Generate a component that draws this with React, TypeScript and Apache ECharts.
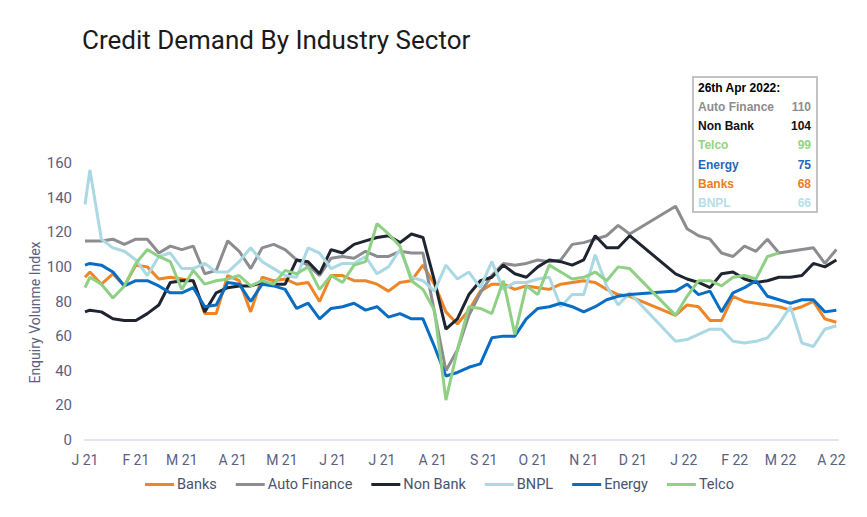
import React, { useEffect, useRef } from "react";
import * as echarts from "echarts";

// Weekly observation dates: a Jan 1 start point, then Mondays through Apr 4, 2022
const firstDate = "2021-01-01";
const firstMonday = "2021-01-04";
const mondayCount = 66;

const monthTicks = [
  "2021-01-01", "2021-02-01", "2021-03-01", "2021-04-01", "2021-05-01", "2021-06-01",
  "2021-07-01", "2021-08-01", "2021-09-01", "2021-10-01", "2021-11-01", "2021-12-01",
  "2022-01-01", "2022-02-01", "2022-03-01", "2022-04-01",
];
const monthLabels = [
  "J 21", "F 21", "M 21", "A 21", "M 21", "J 21", "J 21", "A 21", "S 21", "O 21", "N 21", "D 21",
  "J 22", "F 22", "M 22", "A 22",
];

const yTicks = { min: 0, max: 160, step: 20 };

const banks = [94,
  97, 90, 96, 89, 101, 100, 93, 94, 93, 92,
  73, 73, 95, 92, 74, 94, 92, 93, 90, 91,
  80, 95, 95, 92, 92, 90, 86, 91, 92, 101,
  90, 74, 67, 75, 86, 90, 90, 87, 89, 88,
  87, 90, 91, 92, 91, 87, 84, 83, null, null,
  null, 72, 78, 77, 69, 69, 83, 80, 79, 78,
  77, 75, 77, 80, 70, 68];

const autoFinance = [115,
  115, 115, 116, 113, 116, 116, 108, 112, 110, 112,
  96, 98, 115, 109, 99, 111, 113, 110, 104, 101,
  95, 105, 106, 105, 109, 106, 106, 109, 108, 108,
  74, 40, 52, 72, 85, 95, 102, 101, 102, 104,
  103, 104, 113, 114, 116, 118, 124, 119, null, null,
  null, 135, 122, 118, 116, 108, 106, 112, 109, 116,
  108, 109, 110, 111, 102, 110];

const nonBank = [74,
  75, 74, 70, 69, 69, 73, 78, 91, 92, 92,
  74, 85, 88, 89, 89, 91, 90, 90, 104, 103,
  96, 110, 108, 113, 115, 117, 118, 114, 119, 117,
  92, 64, 70, 84, 92, 94, 101, 96, 94, 100,
  104, 103, 101, 104, 118, 111, 111, 118, null, null,
  null, 96, 93, 91, 88, 96, 97, 93, 91, 92,
  94, 94, 95, 102, 100, 104];

const bnpl = [136,
  156, 116, 111, 109, 104, 95, 106, 108, 99, 99,
  102, 97, 97, 103, 111, 103, 99, 95, 94, 111,
  108, 99, 102, 102, 106, 96, 100, 110, 94, 92,
  86, 101, 93, 97, 88, 103, 87, 91, 91, 93,
  94, 77, 84, 84, 107, 89, 78, 85, null, null,
  null, 57, 58, 61, 64, 64, 57, 56, 57, 59,
  67, 77, 56, 54, 64, 66];

const energy = [101,
  102, 101, 97, 89, 92, 92, 89, 85, 85, 88,
  77, 78, 91, 90, 80, 90, 89, 87, 76, 79,
  70, 76, 77, 79, 75, 77, 71, 73, 70, 70,
  54, 37, 39, 42, 44, 59, 60, 60, 70, 76,
  77, 79, 77, 74, 77, 81, 83, 84, null, null,
  null, 86, 90, 84, 86, 74, 85, 88, 92, 83,
  81, 79, 81, 81, 74, 75];

const telco = [88,
  94, 90, 82, 89, 102, 110, 106, 103, 87, 98,
  90, 92, 93, 95, 89, 92, 90, 98, 96, 100,
  87, 95, 91, 101, 103, 125, 119, 112, 92, 87,
  75, 23, 52, 77, 76, 73, 92, 61, 89, 84,
  101, 97, 93, 94, 97, 92, 100, 99, null, null,
  null, 72, 83, 92, 92, 89, 94, 95, 93, 106,
  108, null, null, null, null, null];

const seriesNames = ["Banks", "Auto Finance", "Non Bank", "BNPL", "Energy", "Telco"];
const seriesValues = [banks, autoFinance, nonBank, bnpl, energy, telco];
const seriesColors = ["#EE8526", "#8D8D91", "#1E2531", "#AAD8E3", "#0A6DC4", "#8FD084"];

const boxTitle = "26th Apr 2022:";
const boxNames = ["Auto Finance", "Non Bank", "Telco", "Energy", "Banks", "BNPL"];
const boxValues = ["110", "104", "99", "75", "68", "66"];
const boxColors = ["#8C8C8C", "#111111", "#93D47C", "#1F66BE", "#EE7D22", "#B5DEEA"];

function toTs(s: string): number {
  const [y, m, d] = s.split("-").map(Number);
  return new Date(y, m - 1, d).getTime();
}

function buildDates(): number[] {
  const out = [toTs(firstDate)];
  const [y, m, d] = firstMonday.split("-").map(Number);
  for (let i = 0; i < mondayCount; i++) out.push(new Date(y, m - 1, d + 7 * i).getTime());
  return out;
}

export default function App() {
  const ref = useRef<HTMLDivElement>(null);
  useEffect(() => {
    if (!ref.current) return;
    const chart = echarts.init(ref.current, undefined, { renderer: "svg" });
    const dates = buildDates();
    const tickTs = monthTicks.map(toTs);
    const axisColor = "#59617F";
    const font = "Roboto";

    const graphicEls: any[] = [
      {
        type: "rect",
        shape: { x: 693, y: 77, width: 124, height: 135 },
        style: { fill: "#ffffff", stroke: "#C3C3C3", lineWidth: 2 },
        z: 10,
      },
      {
        type: "text",
        x: 698,
        y: 88,
        style: {
          text: boxTitle, fill: "#000000", font: "bold 12px 'Liberation Sans'",
          textAlign: "left", textVerticalAlign: "middle",
        },
        z: 11,
      },
    ];
    boxNames.forEach((n, i) => {
      const y = 107 + i * 19.2;
      graphicEls.push({
        type: "text", x: 698, y, z: 11,
        style: { text: n, fill: boxColors[i], font: "bold 12px 'Liberation Sans'", textAlign: "left", textVerticalAlign: "middle" },
      });
      graphicEls.push({
        type: "text", x: 811, y, z: 11,
        style: { text: boxValues[i], fill: boxColors[i], font: "bold 12px 'Liberation Sans'", textAlign: "right", textVerticalAlign: "middle" },
      });
    });

    chart.setOption({
      animation: false,
      backgroundColor: "#ffffff",
      title: {
        text: "Credit Demand By Industry Sector",
        left: 82,
        top: 27,
        padding: 0,
        textStyle: { fontFamily: font, fontSize: 26, fontWeight: "normal", color: "#1B1B1B" },
      },
      grid: { left: 85, right: 29, top: 163, bottom: 77 },
      legend: {
        left: 145,
        top: 477,
        padding: 0,
        icon: "rect",
        itemWidth: 29,
        itemHeight: 3,
        itemGap: 19,
        textStyle: { fontFamily: font, fontSize: 14.5, color: "#4A5270", padding: [0, 0, 0, -2] },
        data: seriesNames,
      },
      xAxis: {
        type: "value",
        min: toTs("2021-01-01"),
        max: toTs("2022-04-05"),
        axisLine: { show: true, lineStyle: { color: "#E4E4EC", width: 2 } },
        axisTick: { show: false },
        splitLine: { show: false },
        axisLabel: {
          customValues: tickTs,
          formatter: (v: number) => {
            const idx = tickTs.indexOf(v);
            return idx >= 0 ? monthLabels[idx] : "";
          },
          color: axisColor,
          fontFamily: font,
          fontSize: 14,
          margin: 13,
          hideOverlap: false,
          showMinLabel: true,
          showMaxLabel: true,
        },
      },
      yAxis: {
        type: "value",
        min: yTicks.min,
        max: yTicks.max,
        interval: yTicks.step,
        name: "Enquiry Volunme Index",
        nameLocation: "middle",
        nameGap: 43,
        nameMoveOverlap: false,
        nameTextStyle: { color: axisColor, fontFamily: font, fontSize: 14, padding: [0, 22, 0, 0] },
        axisLine: { show: false },
        axisTick: { show: false },
        splitLine: { show: false },
        axisLabel: { color: axisColor, fontFamily: font, fontSize: 15, margin: 13 },
      },
      series: seriesNames.map((name, si) => ({
        name,
        type: "line",
        symbol: "none",
        connectNulls: true,
        color: seriesColors[si],
        lineStyle: { width: 3, color: seriesColors[si] },
        data: dates.map((t, i) => [t, seriesValues[si][i]]),
      })),
      graphic: graphicEls,
    });
    return () => chart.dispose();
  }, []);
  return (
    <div
      ref={ref}
      style={{ position: "fixed", left: 0, top: 0, width: 867, height: 517, background: "#fff" }}
    />
  );
}
